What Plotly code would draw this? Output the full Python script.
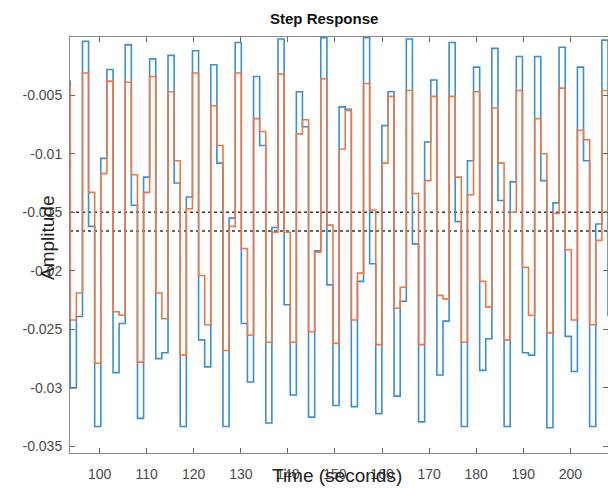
import plotly.graph_objects as go

# sample instants (s) of the discrete step response (first entry = held value before view)
time_s = [92.47, 93.77, 95.07, 96.37, 97.66, 98.96, 100.26, 101.56, 102.86, 104.15, 105.45,
          106.75, 108.05, 109.35, 110.64, 111.94, 113.24, 114.54, 115.84, 117.13, 118.43,
          119.73, 121.03, 122.33, 123.62, 124.92, 126.22, 127.52, 128.82, 130.11, 131.41,
          132.71, 134.01, 135.31, 136.60, 137.90, 139.20, 140.50, 141.80, 143.09, 144.39,
          145.69, 146.99, 148.29, 149.58, 150.88, 152.18, 153.48, 154.78, 156.07, 157.37,
          158.67, 159.97, 161.27, 162.56, 163.86, 165.16, 166.46, 167.76, 169.05, 170.35,
          171.65, 172.95, 174.25, 175.54, 176.84, 178.14, 179.44, 180.74, 182.03, 183.33,
          184.63, 185.93, 187.23, 188.52, 189.82, 191.12, 192.42, 193.72, 195.01, 196.31,
          197.61, 198.91, 200.21, 201.50, 202.80, 204.10, 205.40, 206.70, 208.00]

out_blue = [-0.0038,
    -0.0300, -0.0239, -0.0004, -0.0162, -0.0333, -0.0104, -0.0028, -0.0287, -0.0245, -0.0007,
    -0.0144, -0.0326, -0.0120, -0.0019, -0.0275, -0.0270, -0.0016, -0.0125, -0.0333, -0.0137,
    -0.0012, -0.0259, -0.0282, -0.0024, -0.0108, -0.0333, -0.0155, -0.0005, -0.0245, -0.0295,
    -0.0034, -0.0093, -0.0330, -0.0163, -0.0002, -0.0229, -0.0306, -0.0047, -0.0077, -0.0325,
    -0.0183, -0.0001, -0.0212, -0.0315, -0.0060, -0.0062, -0.0316, -0.0209, -0.0001, -0.0194,
    -0.0322, -0.0076, -0.0047, -0.0307, -0.0226, -0.0002, -0.0177, -0.0329, -0.0090, -0.0037,
    -0.0289, -0.0243, -0.0005, -0.0158, -0.0333, -0.0106, -0.0026, -0.0285, -0.0258, -0.0010,
    -0.0140, -0.0333, -0.0124, -0.0017, -0.0270, -0.0272, -0.0017, -0.0123, -0.0334, -0.0142,
    -0.0009, -0.0256, -0.0286, -0.0026, -0.0106, -0.0333, -0.0160, -0.0003, -0.0239]

out_orange = [-0.0043,
    -0.0242, -0.0219, -0.0031, -0.0133, -0.0279, -0.0117, -0.0038, -0.0235, -0.0238, -0.0039,
    -0.0118, -0.0278, -0.0133, -0.0034, -0.0219, -0.0241, -0.0047, -0.0106, -0.0272, -0.0147,
    -0.0031, -0.0204, -0.0246, -0.0059, -0.0093, -0.0268, -0.0162, -0.0031, -0.0181, -0.0255,
    -0.0070, -0.0081, -0.0261, -0.0167, -0.0032, -0.0167, -0.0261, -0.0083, -0.0071, -0.0252,
    -0.0184, -0.0036, -0.0161, -0.0262, -0.0096, -0.0063, -0.0242, -0.0202, -0.0040, -0.0148,
    -0.0263, -0.0108, -0.0051, -0.0232, -0.0214, -0.0046, -0.0134, -0.0263, -0.0123, -0.0051,
    -0.0221, -0.0224, -0.0051, -0.0120, -0.0261, -0.0135, -0.0047, -0.0209, -0.0231, -0.0061,
    -0.0108, -0.0259, -0.0150, -0.0046, -0.0197, -0.0238, -0.0070, -0.0100, -0.0253, -0.0151,
    -0.0044, -0.0182, -0.0242, -0.0080, -0.0088, -0.0246, -0.0174, -0.0046, -0.0150]

steady_state = [-0.0150, -0.0166]

x_ticks = [100, 110, 120, 130, 140, 150, 160, 170, 180, 190, 200]
y_ticks = [-0.035, -0.03, -0.025, -0.02, -0.015, -0.01, -0.005]
y_tick_text = ["-0.035", "-0.03", "-0.025", "-0.02", "-0.015", "-0.01", "-0.005"]

x_range = [93.72, 208.0]
y_range = [-0.03556, -0.00003]

FONT = "Liberation Sans, Arial, Helvetica, sans-serif"

fig = go.Figure()
for ss in steady_state:
    fig.add_trace(go.Scatter(x=x_range, y=[ss, ss], mode="lines",
                             line=dict(color="#333333", width=1.3, dash="dot"),
                             hoverinfo="skip"))
fig.add_trace(go.Scatter(x=time_s, y=out_blue, mode="lines", line_shape="hv",
                         line=dict(color="#3a8fcf", width=1.6), name="blue"))
fig.add_trace(go.Scatter(x=time_s, y=out_orange, mode="lines", line_shape="hv",
                         line=dict(color="#ec7848", width=1.6), name="orange"))

L, R, T, B = 70, 0, 37, 35
W, H = 608, 488
pw, ph = W - L - R, H - T - B

def px(xp):
    return (xp - L) / pw

def py(yp):
    return (H - B - yp) / ph

fig.update_layout(
    width=W, height=H,
    margin=dict(l=L, r=R, t=T, b=B),
    plot_bgcolor="white", paper_bgcolor="white",
    showlegend=False,
    font=dict(family=FONT, color="#404040", size=14),
    xaxis=dict(range=x_range, tickvals=x_ticks, ticks="inside", ticklen=5,
               tickcolor="#666", showline=True, linecolor="#8a8a8a", linewidth=1,
               mirror="ticks", showgrid=False, zeroline=False,
               tickfont=dict(size=14, color="#4a4a4a"), ticklabelstandoff=8),
    yaxis=dict(range=y_range, tickvals=y_ticks, ticktext=y_tick_text, ticks="inside",
               ticklen=5, tickcolor="#666", showline=True, linecolor="#8a8a8a",
               linewidth=1, mirror="ticks", showgrid=False, zeroline=False,
               tickfont=dict(size=14, color="#4a4a4a"), ticklabelstandoff=4),
    annotations=[
        dict(text="<b>Step Response</b>", x=px(324), y=py(18), xref="paper", yref="paper",
             showarrow=False, font=dict(size=15, color="#111", family=FONT),
             xanchor="center", yanchor="middle"),
        dict(text="Time (seconds)", x=px(337), y=py(476), xref="paper", yref="paper",
             showarrow=False, font=dict(size=19, color="#222", family=FONT),
             xanchor="center", yanchor="middle"),
        dict(text="Amplitude", x=px(48), y=py(238), xref="paper", yref="paper",
             showarrow=False, textangle=-90, font=dict(size=19, color="#222", family=FONT),
             xanchor="center", yanchor="middle"),
    ],
)

fig.write_html("out.html")
